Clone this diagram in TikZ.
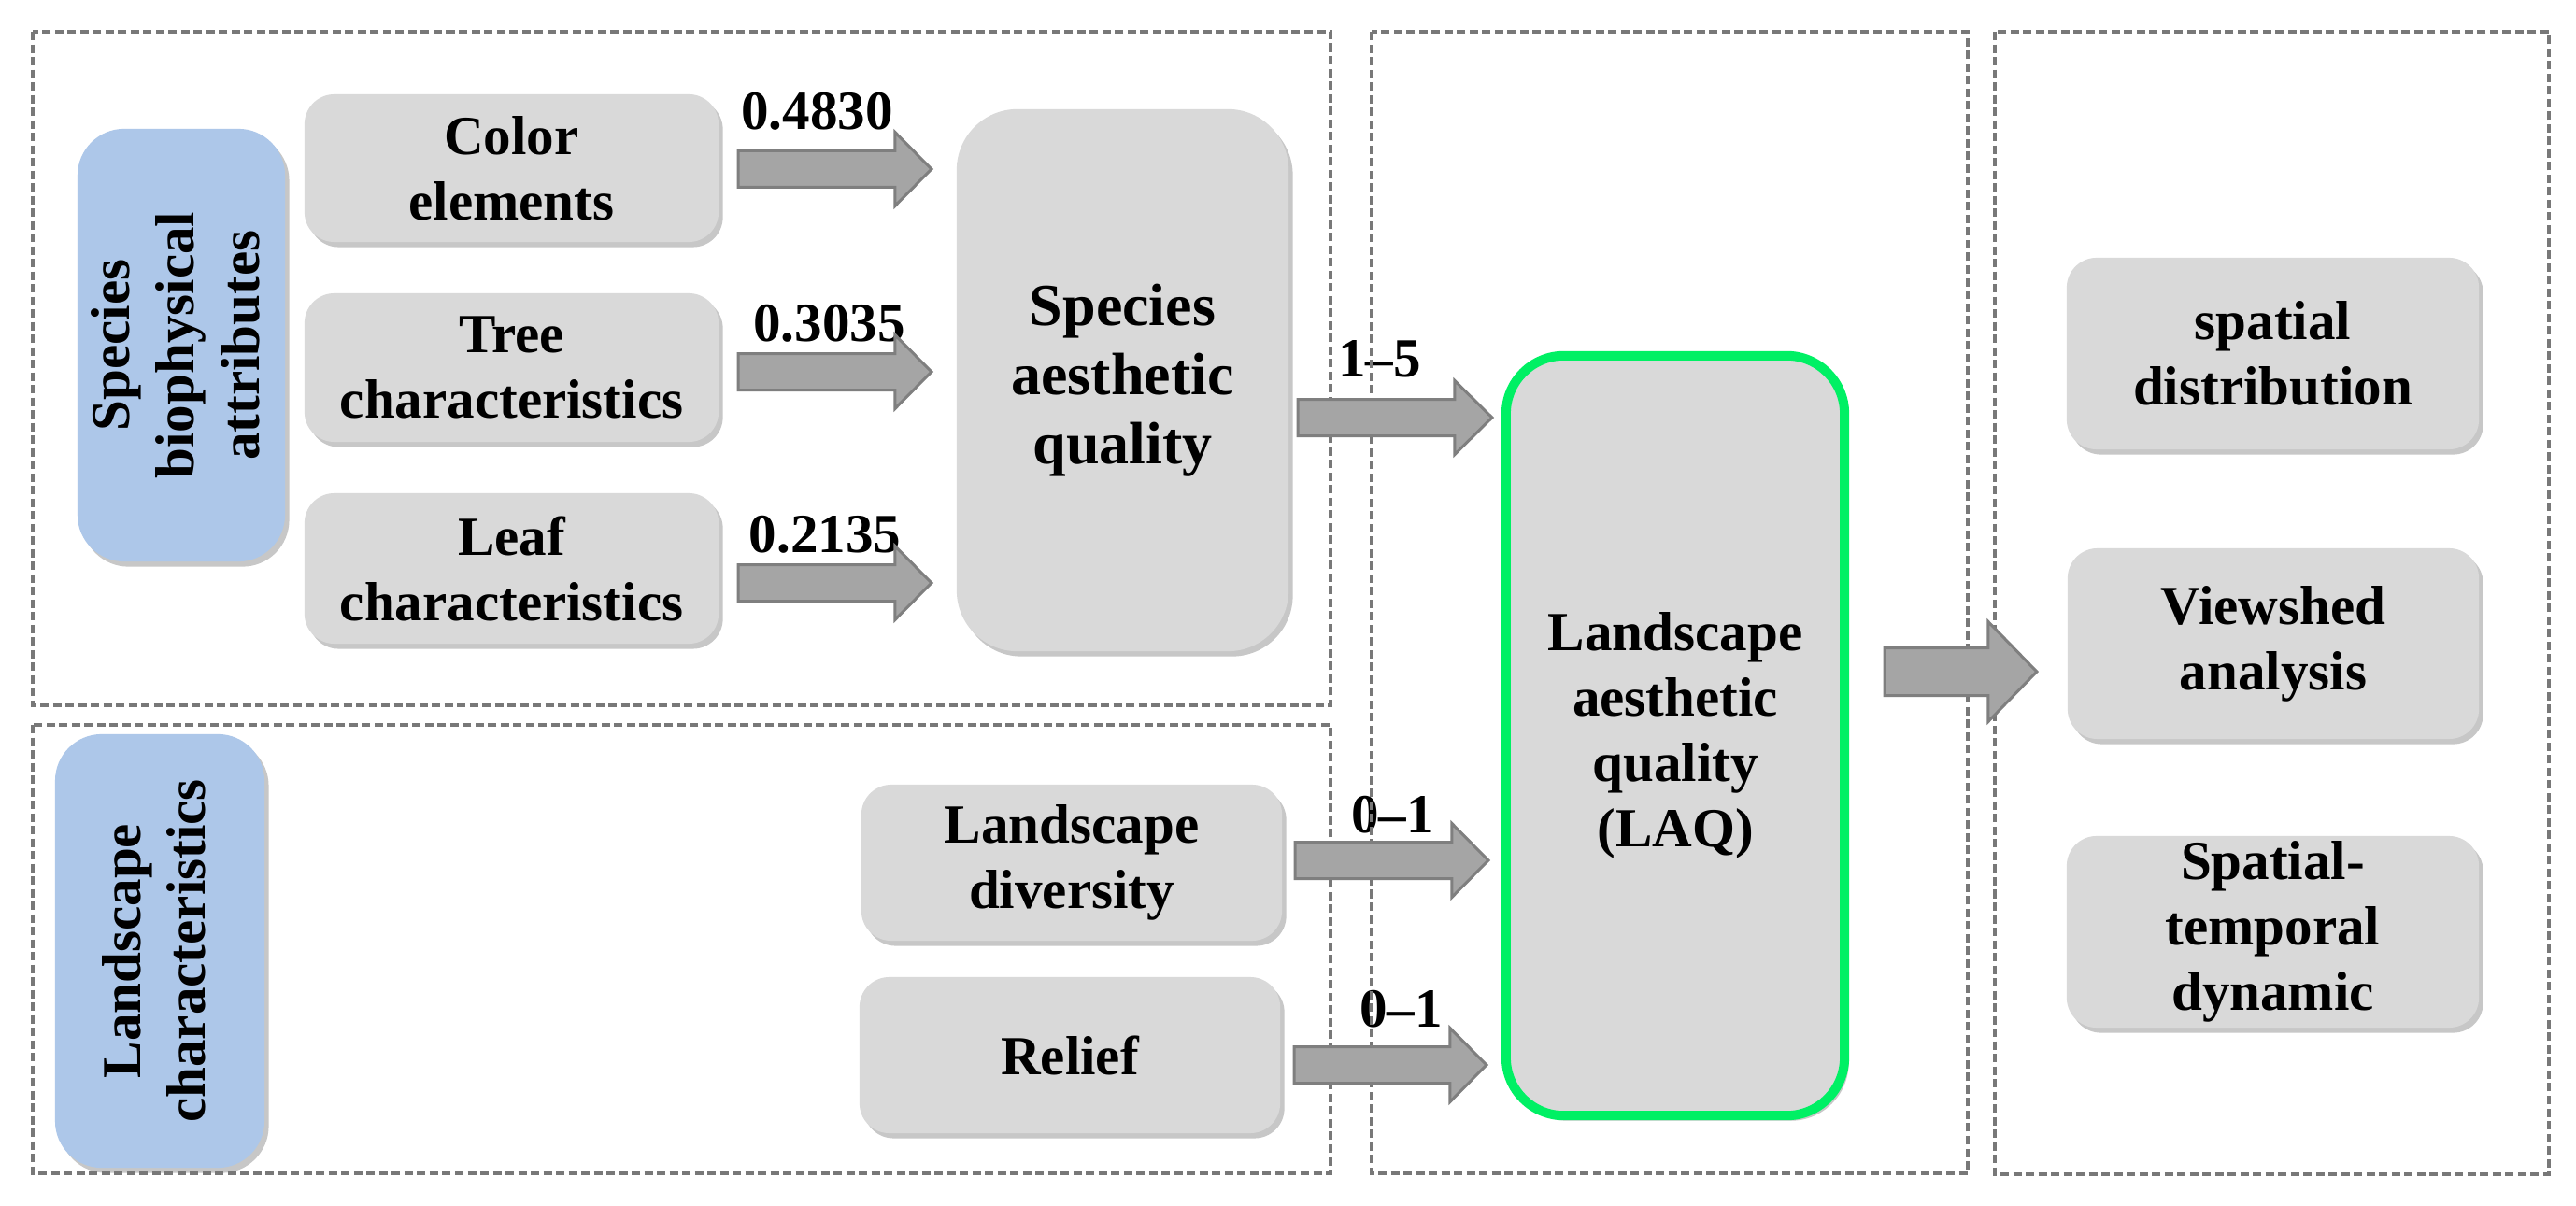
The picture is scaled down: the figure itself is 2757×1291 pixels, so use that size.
\documentclass[tikz,border=0pt]{standalone}
\usepackage{fontspec}
\setmainfont{Liberation Serif}
\usetikzlibrary{calc,shadows}
\definecolor{boxgray}{RGB}{217,217,217}
\definecolor{boxblue}{RGB}{173,199,233}
\definecolor{laqgreen}{RGB}{0,240,100}
\definecolor{arrfill}{RGB}{165,165,165}
\definecolor{arrline}{RGB}{127,127,127}
\definecolor{framegray}{RGB}{120,120,120}
\newcommand\blockarr[5]{\draw[barrow] ($(#1)+(0,#3)$) -- ($(#2)+(-#5,#3)$) -- ($(#2)+(-#5,#4)$) -- (#2) -- ($(#2)+(-#5,-#4)$) -- ($(#2)+(-#5,-#3)$) -- ($(#1)+(0,-#3)$) -- cycle;}
\begin{document}
\begin{tikzpicture}[x=0.01cm,y=-0.01cm,
 every node/.style={outer sep=0pt, inner sep=0pt},
 txt/.style={font=\bfseries\fontsize{16.8}{19.9}\selectfont, align=center},
 shad/.style={drop shadow={shadow xshift=0.045cm, shadow yshift=-0.055cm, fill=black!40, opacity=0.55}},
 gbox/.style={txt, fill=boxgray, rounded corners=0.32cm, shad},
 bbox/.style={txt, fill=boxblue, rounded corners=0.5cm, shad},
 frame/.style={draw=framegray, line width=0.038cm, dash pattern=on 0.09cm off 0.045cm},
 barrow/.style={fill=arrfill, draw=arrline, line width=0.03cm, line join=miter},
 lbl/.style={txt, anchor=base}]
\useasboundingbox (0,0) rectangle (2757,1291);
\fill[white] (0,0) rectangle (2757,1291);

% left column
\node[bbox, minimum width=2.22cm, minimum height=4.63cm] (bio) at (194,369.5)
  {\rotatebox{90}{\begin{tabular}{@{}c@{}}Species\\biophysical\\attributes\end{tabular}}};
\node[gbox, minimum width=4.43cm, minimum height=1.58cm] (color) at (547.5,180) {Color\\elements};
\node[gbox, minimum width=4.43cm, minimum height=1.59cm] (tree) at (547.5,393.5) {Tree\\characteristics};
\node[gbox, minimum width=4.43cm, minimum height=1.61cm] (leaf) at (547.5,608.5) {Leaf\\characteristics};
\node[gbox, font=\bfseries\fontsize{18.2}{21}\selectfont, rounded corners=0.65cm, minimum width=3.55cm, minimum height=5.8cm] (saq) at (1201.5,407) {Species\\aesthetic\\quality};

\node[bbox, minimum width=2.24cm, minimum height=4.64cm] (lch) at (171,1018)
  {\rotatebox{90}{\begin{tabular}{@{}c@{}}Landscape\\characteristics\end{tabular}}};
\node[gbox, minimum width=4.5cm, minimum height=1.67cm] (ldiv) at (1147,923.5) {Landscape\\diversity};
\node[gbox, minimum width=4.5cm, minimum height=1.67cm] (relief) at (1145,1129.5) {Relief};

% middle
\node[txt, fill=boxgray, draw=laqgreen, line width=0.1cm, rounded corners=0.62cm, shad, minimum width=3.62cm, minimum height=8.13cm] (laq) at (1793,787.5) {Landscape\\aesthetic\\quality\\(LAQ)};

% right column
\node[gbox, minimum width=4.41cm, minimum height=2.05cm] (sd) at (2432.5,378.5) {spatial\\distribution};
\node[gbox, minimum width=4.40cm, minimum height=2.04cm] (vs) at (2433,689) {Viewshed\\analysis};
\node[gbox, minimum width=4.41cm, minimum height=2.05cm] (st) at (2432.5,997.5) {Spatial-\\temporal\\dynamic};

% labels
\node[lbl] (l1) at (874.5,139) {0.4830};
\node[lbl] (l2) at (887.5,365) {0.3035};
\node[lbl] (l3) at (883,591) {0.2135};
\node[lbl] (l4) at (1476.5,403) {1--5};
\node[lbl] (l5) at (1490.5,891) {0--1};
\node[lbl] (l6) at (1499.5,1099) {0--1};

% dashed frames
\draw[frame] (35,34) rectangle (1424,755);
\draw[frame] (35,776) rectangle (1424,1256);
\draw[frame] (1468,34) rectangle (2106,1256);
\draw[frame] (2135,34) rectangle (2728,1257);

% block arrows
\coordinate (a1s) at ($(color.east)+(21,1)$);
\coordinate (a1e) at ($(a1s -| saq.west)+(-27,0)$);
\coordinate (a2s) at ($(tree.east)+(21,4.5)$);
\coordinate (a2e) at ($(a2s -| saq.west)+(-27,0)$);
\coordinate (a3s) at ($(leaf.east)+(21,15.5)$);
\coordinate (a3e) at ($(a3s -| saq.west)+(-27,0)$);
\coordinate (a4s) at ($(saq.east)+(10,40)$);
\coordinate (a4e) at ($(a4s -| laq.west)+(-15,0)$);
\coordinate (a5s) at ($(ldiv.east)+(14,-2.5)$);
\coordinate (a5e) at ($(a5s -| laq.west)+(-19,0)$);
\coordinate (a6s) at ($(relief.east)+(15,10.5)$);
\coordinate (a6e) at ($(a6s -| laq.west)+(-21,0)$);
\coordinate (a7s) at ($(laq.east)+(43,-68.5)$);
\coordinate (a7e) at ($(a7s -| vs.west)+(-33,0)$);
\blockarr{a1s}{a1e}{19.5}{39.5}{39}
\blockarr{a2s}{a2e}{19.5}{39.5}{39}
\blockarr{a3s}{a3e}{19.5}{39.5}{39}
\blockarr{a4s}{a4e}{19.5}{39.5}{40}
\blockarr{a5s}{a5e}{19.5}{39.5}{39}
\blockarr{a6s}{a6e}{19.5}{39.5}{39}
\blockarr{a7s}{a7e}{25.5}{53.5}{52}
\end{tikzpicture}
\end{document}
